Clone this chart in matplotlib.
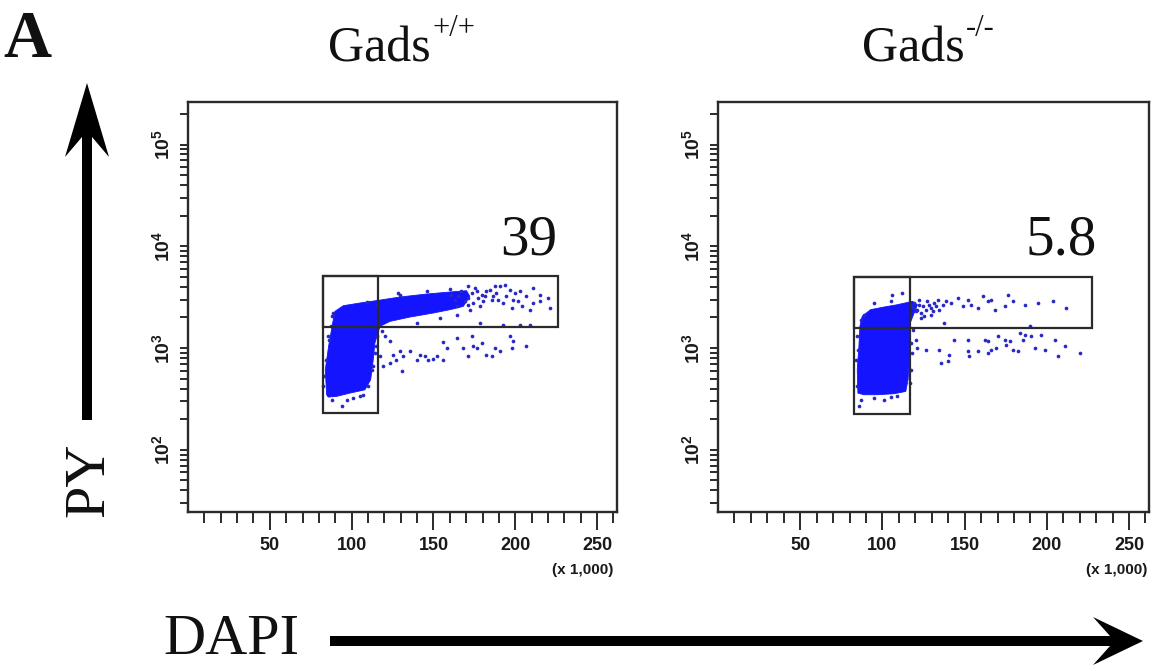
import matplotlib
matplotlib.use("Agg")
import matplotlib.pyplot as plt
from matplotlib.patches import Polygon, Rectangle
from matplotlib.ticker import FixedLocator, LogLocator, NullFormatter

W, H = 1154, 671
plt.rcParams['mathtext.fontset'] = 'custom'
plt.rcParams['mathtext.bf'] = 'Liberation Sans:bold'
plt.rcParams['mathtext.rm'] = 'Liberation Sans'

# ---- data (DAPI in units of 1,000; PY linear intensity) ----
genotypes = ['+/+', '-/-']
gate_percent = ['39', '5.8']

# dense population outline (G0/G1 column + S/G2 band)
wt_core_x = [84.7, 83.9, 85.9, 88.4, 89.8, 94.9, 105.0, 116.2, 129.5, 145.8, 160.0, 170.2, 172.2,
             168.2, 160.0, 149.8, 135.6, 123.4, 117.3, 114.2, 113.2, 111.6, 108.1, 98.9, 90.8, 85.7]
wt_core_y = [348, 612, 1039, 1762, 2296, 2610, 2773, 2944, 3176, 3399, 3556, 3664, 3224,
             2570, 2384, 2211, 2018, 1830, 1634, 1119, 768, 488, 389, 361, 335, 330]

ko_core_x = [85.1, 84.7, 85.7, 86.3, 87.7, 92.8, 101.0, 109.1, 118.3, 121.3, 119.3, 116.9, 116.9,
             116.4, 115.6, 114.2, 107.1, 96.9, 88.8]
ko_core_y = [361, 613, 1039, 1634, 2051, 2386, 2532, 2669, 2881, 2669, 2211, 1763, 1208,
             768, 488, 375, 356, 348, 348]

# individual events outside the dense core
wt_ev_x = [190.6, 193.6, 196.7, 199.7, 202.8, 206.8, 210.9, 215.0, 220.1, 221.1, 210.9, 203.8,
           198.7, 194.6, 188.5, 185.5, 181.4, 192.6, 208.9, 215.0, 182.4, 187.5, 201.8, 197.7,
           178.3, 192.6, 202.8, 208.9,
           118.3, 120.3, 123.4, 125.4, 127.4, 129.5, 131.5, 123.4, 130.5, 135.6, 139.7, 141.7,
           144.7, 146.8, 149.8, 151.9, 155.9, 158.0, 155.9, 164.1, 168.2, 171.2, 173.3, 174.3,
           176.3, 179.4, 182.4, 185.5, 187.5, 190.6, 196.7, 197.7, 198.7, 206.8, 117.3, 119.3,
           93.9,
           82.7, 83.1, 84.3, 85.7, 87.7, 88.8, 101.0, 96.9, 107.1, 112.2, 114.2, 115.2, 129.5,
           145.8, 160.0, 171.2, 128.5, 139.7, 153.9, 164.1, 172.2, 115.2, 109.1,
           161.0, 163.1, 165.1, 167.1, 169.2, 171.2, 173.3, 174.3, 176.3, 177.3, 179.4, 180.4,
           184.5, 186.5, 189.5, 178.3, 171.2, 164.1, 175.3,
           87.7, 105.0, 110.1, 113.2, 114.8, 86.3, 87.1]
wt_ev_y = [4046, 4198, 3750, 3477, 3610, 3224, 3894, 3350, 3105, 2475, 2773, 2570,
           2990, 3224, 3477, 2990, 3224, 2773, 2384, 2879, 3610, 4100, 2879, 2475,
           1762, 1698, 1698, 1698,
           1458, 1303, 1164, 860, 768, 927, 828, 711, 590, 927, 768, 860,
           828, 768, 780, 828, 1135, 1000, 768, 1253, 1000, 828, 1303, 1054,
           1000, 1119, 860, 828, 1000, 927, 1303, 1000, 1164, 1054, 828, 660,
           267,
           420, 526, 768, 1303, 2050, 2211, 322, 310, 348, 612, 893, 1303, 3350,
           3610, 3802, 4046, 3477, 1762, 1973, 2129, 2384, 2669, 2815,
           3350, 2990, 3224, 3610, 2879, 3105, 3477, 2773, 3610, 3105, 3350, 2879,
           3750, 3224, 2990, 2570, 2669, 2570, 3894,
           310, 335, 420, 660, 1039, 1208, 1634]

ko_ev_x = [119.3, 122.4, 124.4, 127.4, 129.5, 131.5, 133.6, 136.6, 138.6, 141.7, 145.8, 148.8,
           151.9, 153.9, 158.0, 161.0, 164.1, 166.1, 168.2, 174.3, 176.3, 179.4, 186.5, 194.6,
           203.8, 211.9, 137.6, 125.4, 123.4, 129.5, 112.2, 106.1, 120.3, 189.5,
           117.3, 119.3, 121.3, 122.4, 126.4, 128.5, 130.5, 132.5, 123.4, 134.6,
           120.3, 121.3, 126.4, 134.6, 135.6, 140.7, 139.7, 143.7, 151.9, 152.9, 158.0, 162.1,
           164.1, 166.1, 169.2, 170.2, 174.3, 175.3, 177.3, 182.4, 185.5, 186.5, 190.6, 192.6,
           196.7, 198.7, 204.8, 206.8, 210.9, 220.1, 179.4, 183.4, 164.1, 151.9,
           85.7, 84.7, 83.7, 84.3, 86.7, 88.8, 101.0, 109.1, 117.3, 117.7, 118.3, 94.9, 105.0,
           86.7, 94.9, 105.0, 116.9, 117.3, 85.1]
ko_ev_y = [2773, 2990, 2570, 2879, 2475, 2773, 2990, 2669, 2879, 2773, 3105, 2570,
           2990, 2669, 2475, 3224, 2879, 2990, 2384, 2570, 3350, 2879, 2669, 2773,
           2879, 2475, 1762, 2050, 2211, 2129, 3477, 3350, 2296, 1634,
           2570, 2475, 2384, 2669, 2384, 2669, 2296, 2570, 1973, 2384,
           1208, 1000, 964, 964, 711, 860, 740, 1208, 1208, 828, 927, 1208,
           1164, 964, 1000, 1303, 1208, 1079, 1164, 927, 1208, 1352, 1303, 1000,
           1352, 964, 1208, 828, 1039, 893, 964, 1405, 893, 927,
           267, 420, 768, 1303, 1901, 2129, 310, 335, 612, 893, 1514, 2773, 2879,
           310, 322, 330, 453, 1119, 964]

# gates: (x0, x1, y0, y1)
wt_gate_g1 = (82.5, 116.2, 231, 5140)
wt_gate_sg2 = (82.5, 226.0, 1624, 5140)
ko_gate_g1 = (82.5, 116.7, 226, 5030)
ko_gate_sg2 = (82.5, 227.2, 1585, 5030)

x_major = [50, 100, 150, 200, 250]
x_minor = [v for v in range(10, 261, 10) if v % 50]
y_major = [1e2, 1e3, 1e4, 1e5]
y_labels = [r'$\mathbf{10}^{\mathbf{2}}$', r'$\mathbf{10}^{\mathbf{3}}$',
            r'$\mathbf{10}^{\mathbf{4}}$', r'$\mathbf{10}^{\mathbf{5}}$']

BLUE = '#1414ff'
DOT = '#2828c8'
EDGE = '#2a2a2a'

fig = plt.figure(figsize=(W / 100, H / 100), dpi=100)


def fx(x):
    return x / W


def fy(y):
    return 1 - y / H


def make_axes(left, top, right, bottom):
    return fig.add_axes([fx(left), fy(bottom), (right - left) / W, (bottom - top) / H])


panels = [
    dict(box=(188, 102, 617, 512), core=(wt_core_x, wt_core_y), ev=(wt_ev_x, wt_ev_y),
         gates=(wt_gate_g1, wt_gate_sg2), pct=gate_percent[0], geno=genotypes[0],
         title_x=328, sup_x=432, mult_x=613),
    dict(box=(718, 102, 1149, 512), core=(ko_core_x, ko_core_y), ev=(ko_ev_x, ko_ev_y),
         gates=(ko_gate_g1, ko_gate_sg2), pct=gate_percent[1], geno=genotypes[1],
         title_x=862, sup_x=966, mult_x=1147),
]

for p in panels:
    ax = make_axes(*p['box'])
    ax.set_xscale('linear')
    ax.set_yscale('log')
    ax.set_xlim(0, 262.144)
    ax.set_ylim(24.5, 262144)

    ax.fill(*p['core'], color=BLUE, lw=0.6, zorder=2)
    ax.scatter(*p['ev'], s=7, color=DOT, linewidths=0, zorder=3)

    for (x0, x1, y0, y1) in p['gates']:
        ax.add_patch(Rectangle((x0, y0), x1 - x0, y1 - y0, fill=False,
                               edgecolor=EDGE, lw=1.6, zorder=4))

    ax.set_xticks(x_major)
    ax.xaxis.set_minor_locator(FixedLocator(x_minor))
    ax.set_xticklabels([str(v) for v in x_major])
    ax.set_yticks(y_major)
    ax.yaxis.set_minor_locator(LogLocator(base=10, subs=range(2, 10)))
    ax.yaxis.set_minor_formatter(NullFormatter())
    ax.set_yticklabels(y_labels, rotation=90, va='center')

    ax.tick_params(axis='x', which='major', direction='out', length=13, width=1.4,
                   color=EDGE, pad=5)
    ax.tick_params(axis='x', which='minor', direction='out', length=8, width=1.4, color=EDGE)
    ax.tick_params(axis='y', which='major', direction='out', length=6, width=1.4,
                   color=EDGE, pad=4, labelsize=14)
    ax.tick_params(axis='y', which='minor', direction='out', length=6, width=1.4, color=EDGE)
    for lab in ax.get_xticklabels():
        lab.set_fontfamily('Liberation Sans')
        lab.set_fontweight('bold')
        lab.set_fontsize(13)
        lab.set_color('#1a1a1a')
    for lab in ax.get_yticklabels():
        lab.set_color('#1a1a1a')
    for sp in ax.spines.values():
        sp.set_color(EDGE)
        sp.set_linewidth(1.7)

    ax.text(0.795, 0.627, p['pct'], transform=ax.transAxes, ha='center', va='baseline',
            family='Liberation Serif', fontsize=41, color='#111111')

    fig.text(fx(p['mult_x']), fy(570), '(x 1,000)', ha='right', va='center',
             family='Liberation Sans', fontweight='bold', fontsize=11, color='#1a1a1a')
    fig.text(fx(p['title_x']), fy(62), 'Gads', ha='left', va='baseline',
             family='Liberation Serif', fontsize=36, color='#111111')
    fig.text(fx(p['sup_x']), fy(36), p['geno'], ha='left', va='baseline',
             family='Liberation Serif', fontsize=22, color='#111111')

# panel letter
fig.text(fx(3), fy(57), 'A', ha='left', va='baseline', family='Liberation Serif',
         fontweight='bold', fontsize=48, color='#111111')

# PY axis arrow (vertical)
py_arrow = [(87, 83), (109, 157), (92, 137), (92, 420), (82, 420), (82, 137), (65, 157)]
fig.add_artist(Polygon([(fx(x), fy(y)) for x, y in py_arrow], closed=True,
                       transform=fig.transFigure, color='black', lw=0))
fig.text(fx(89), fy(480), 'PY', rotation=90, ha='center', va='center',
         family='Liberation Serif', fontsize=42, color='#111111')

# DAPI axis arrow (horizontal)
dapi_arrow = [(1143, 641), (1093, 617), (1110, 636), (330, 636), (330, 646), (1110, 646),
              (1093, 665)]
fig.add_artist(Polygon([(fx(x), fy(y)) for x, y in dapi_arrow], closed=True,
                       transform=fig.transFigure, color='black', lw=0))
fig.text(fx(163), fy(640), 'DAPI', ha='left', va='center',
         family='Liberation Serif', fontsize=42, color='#111111')

fig.savefig('out.png', dpi=100, facecolor='white')
